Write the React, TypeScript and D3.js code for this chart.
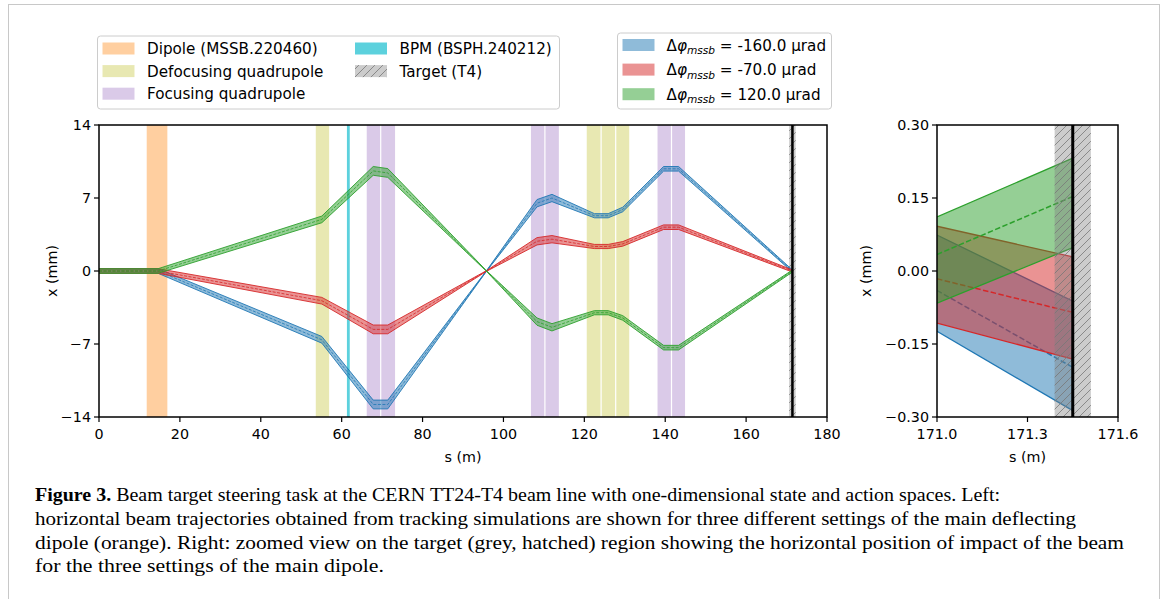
import React from 'react';
import * as d3 from 'd3';

// ---------- data ----------
const knotS = [0, 14.6, 55.1, 67.8, 71.4, 95.8, 108.3, 112.0, 122.5, 125.9, 129.5, 139.6, 143.3, 171.45];
const envelopeHW = [0.22, 0.22, 0.32, 0.42, 0.42, 0.03, 0.35, 0.35, 0.2, 0.2, 0.22, 0.22, 0.22, 0.1];
const blueX = [0, 0, -6.6, -12.8, -12.8, 0, 6.5, 7.0, 5.3, 5.3, 5.9, 9.8, 9.8, 0];
const redX = [0, 0, -2.85, -5.6, -5.6, 0, 2.85, 3.05, 2.35, 2.35, 2.6, 4.2, 4.2, 0];
const greenX = [0, 0, 4.95, 9.6, 9.4, 0, -4.85, -5.4, -4.0, -4.0, -4.5, -7.35, -7.35, 0];

const seriesLabels = ['-160.0', '-70.0', '120.0'];
const seriesColors = ['#1f77b4', '#d62728', '#2ca02c'];

// zoomed panel (s = 171.0 .. 171.45)
const rightS = [171.0, 171.45];
const blueUpperR = [0.074, -0.062];
const blueCenterR = [-0.040, -0.198];
const blueLowerR = [-0.124, -0.287];
const redUpperR = [0.092, 0.029];
const redCenterR = [-0.016, -0.085];
const redLowerR = [-0.107, -0.181];
const greenUpperR = [0.111, 0.232];
const greenCenterR = [0.034, 0.153];
const greenLowerR = [-0.066, 0.048];

// beam line elements [start, end] in s (m)
const dipoles = [[11.8, 16.9]];
const defocusingQuads = [[53.6, 56.9], [120.6, 124.0], [124.3, 127.6], [127.9, 131.1]];
const focusingQuads = [[66.2, 69.5], [69.8, 73.2], [106.8, 110.1], [110.4, 113.7], [138.1, 141.4], [141.7, 144.9]];
const bpms = [[61.3, 62.0]];
const targetSpan = [171.39, 171.51];
const targetPos = 171.45;

const leftXTicks = [0, 20, 40, 60, 80, 100, 120, 140, 160, 180];
const leftYTicks = [-14, -7, 0, 7, 14];
const rightXTicks = [171.0, 171.3, 171.6];
const rightYTicks = [-0.3, -0.15, 0, 0.15, 0.3];

const elementLegend = [
  { label: 'Dipole (MSSB.220460)', color: '#ffbb78', op: 0.7 },
  { label: 'Defocusing quadrupole', color: '#bcbd22', op: 0.35 },
  { label: 'Focusing quadrupole', color: '#9467bd', op: 0.35 },
  { label: 'BPM (BSPH.240212)', color: '#17becf', op: 0.7 },
  { label: 'Target (T4)', color: 'hatch', op: 1 },
];

const captionLines = [
  'Beam target steering task at the CERN TT24-T4 beam line with one-dimensional state and action spaces. Left:',
  'horizontal beam trajectories obtained from tracking simulations are shown for three different settings of the main deflecting',
  'dipole (orange). Right: zoomed view on the target (grey, hatched) region showing the horizontal position of impact of the beam',
  'for the three settings of the main dipole.',
];

// ---------- layout ----------
const W = 1168, H = 599;
const L = { x0: 99, x1: 827, y0: 125, y1: 417 };
const R = { x0: 937, x1: 1118, y0: 125, y1: 417 };
const FONT = 'DejaVu Sans, sans-serif';

const xL = d3.scaleLinear().domain([0, 180]).range([L.x0, L.x1]);
const yL = d3.scaleLinear().domain([-14, 14]).range([L.y1, L.y0]);
const xR = d3.scaleLinear().domain([171.0, 171.6]).range([R.x0, R.x1]);
const yR = d3.scaleLinear().domain([-0.3, 0.3]).range([R.y1, R.y0]);

const minus = (s: string) => s.replace('-', '\u2212');

function Trajectory({ xs, color }: { xs: number[]; color: string }) {
  const pts = knotS.map((s, i) => ({ s, c: xs[i], hw: envelopeHW[i] }));
  const area = d3.area<any>().x(d => xL(d.s)).y0(d => yL(d.c - d.hw)).y1(d => yL(d.c + d.hw));
  const line = (f: (d: any) => number) => d3.line<any>().x(d => xL(d.s)).y(d => yL(f(d)))(pts) || '';
  return (
    <g>
      <path d={area(pts) || ''} fill={color} fillOpacity={0.5} />
      <path d={line(d => d.c + d.hw)} fill="none" stroke={color} strokeWidth={0.9} />
      <path d={line(d => d.c - d.hw)} fill="none" stroke={color} strokeWidth={0.9} />
      <path d={line(d => d.c)} fill="none" stroke={color} strokeWidth={0.8} strokeDasharray="3,1.5" />
    </g>
  );
}

function ZoomBand({ up, mid, lo, color }: { up: number[]; mid: number[]; lo: number[]; color: string }) {
  const pts = rightS.map((s, i) => ({ s, u: up[i], m: mid[i], l: lo[i] }));
  const area = d3.area<any>().x(d => xR(d.s)).y0(d => yR(d.l)).y1(d => yR(d.u));
  const line = (k: string) => d3.line<any>().x(d => xR(d.s)).y(d => yR(d[k]))(pts) || '';
  return (
    <g>
      <path d={area(pts) || ''} fill={color} fillOpacity={0.5} />
      <path d={line('u')} fill="none" stroke={color} strokeWidth={1.3} />
      <path d={line('l')} fill="none" stroke={color} strokeWidth={1.3} />
      <path d={line('m')} fill="none" stroke={color} strokeWidth={1.5} strokeDasharray="5.5,2.4" />
    </g>
  );
}

function Spans({ spans, color, op }: { spans: number[][]; color: string; op: number }) {
  return (
    <g>
      {spans.map((sp, i) => (
        <rect key={i} x={xL(sp[0])} y={L.y0} width={xL(sp[1]) - xL(sp[0])} height={L.y1 - L.y0} fill={color} fillOpacity={op} />
      ))}
    </g>
  );
}

export default function App() {
  const seriesLeft = [blueX, redX, greenX];
  const zoomSeries = [
    [blueUpperR, blueCenterR, blueLowerR],
    [redUpperR, redCenterR, redLowerR],
    [greenUpperR, greenCenterR, greenLowerR],
  ];
  return (
    <svg width={W} height={H} style={{ position: 'absolute', left: 0, top: 0, background: '#fff' }} fontFamily={FONT}>
      <defs>
        <pattern id="hatch" patternUnits="userSpaceOnUse" width="8" height="8">
          <path d="M-2,2 l4,-4 M0,8 l8,-8 M6,10 l4,-4" stroke="#777" strokeWidth="0.8" />
        </pattern>
        <clipPath id="clipL"><rect x={L.x0} y={L.y0} width={L.x1 - L.x0} height={L.y1 - L.y0} /></clipPath>
        <clipPath id="clipR"><rect x={R.x0} y={R.y0} width={R.x1 - R.x0} height={R.y1 - R.y0} /></clipPath>
      </defs>
      <rect x={0} y={0} width={W} height={H} fill="#fff" />
      <rect x={8.5} y={4.5} width={1151} height={640} fill="none" stroke="#c8c8c8" strokeWidth={1} />

      {/* ---------- left panel ---------- */}
      <g clipPath="url(#clipL)">
        <Spans spans={dipoles} color="#ffbb78" op={0.7} />
        <Spans spans={defocusingQuads} color="#bcbd22" op={0.35} />
        <Spans spans={focusingQuads} color="#9467bd" op={0.35} />
        <Spans spans={bpms} color="#17becf" op={0.7} />
        <rect x={xL(targetSpan[0]) - 3} y={L.y0} width={xL(targetSpan[1]) - xL(targetSpan[0]) + 6} height={L.y1 - L.y0} fill="#808080" fillOpacity={0.4} />
        <rect x={xL(targetSpan[0]) - 3} y={L.y0} width={xL(targetSpan[1]) - xL(targetSpan[0]) + 6} height={L.y1 - L.y0} fill="url(#hatch)" />
        {seriesLeft.map((xs, i) => <Trajectory key={i} xs={xs} color={seriesColors[i]} />)}
        <line x1={xL(targetPos)} x2={xL(targetPos)} y1={L.y0} y2={L.y1} stroke="#000" strokeWidth={2.5} />
      </g>
      <rect x={L.x0} y={L.y0} width={L.x1 - L.x0} height={L.y1 - L.y0} fill="none" stroke="#000" strokeWidth={1.5} />
      {leftXTicks.map(t => (
        <g key={t}>
          <line x1={xL(t)} x2={xL(t)} y1={L.y1} y2={L.y1 + 5} stroke="#000" strokeWidth={1.2} />
          <text x={xL(t)} y={L.y1 + 22} fontSize={14.3} textAnchor="middle">{t}</text>
        </g>
      ))}
      {leftYTicks.map(t => (
        <g key={t}>
          <line x1={L.x0 - 5} x2={L.x0} y1={yL(t)} y2={yL(t)} stroke="#000" strokeWidth={1.2} />
          <text x={L.x0 - 8} y={yL(t) + 5} fontSize={14.3} textAnchor="end">{minus(String(t))}</text>
        </g>
      ))}
      <text x={(L.x0 + L.x1) / 2} y={462} fontSize={14.3} textAnchor="middle">s (m)</text>
      <text transform={`translate(57,${(L.y0 + L.y1) / 2}) rotate(-90)`} fontSize={14.3} textAnchor="middle">x (mm)</text>

      {/* ---------- right panel ---------- */}
      <g clipPath="url(#clipR)">
        {zoomSeries.map((s, i) => <ZoomBand key={i} up={s[0]} mid={s[1]} lo={s[2]} color={seriesColors[i]} />)}
        <rect x={xR(targetSpan[0])} y={R.y0} width={xR(targetSpan[1]) - xR(targetSpan[0])} height={R.y1 - R.y0} fill="#808080" fillOpacity={0.4} />
        <rect x={xR(targetSpan[0])} y={R.y0} width={xR(targetSpan[1]) - xR(targetSpan[0])} height={R.y1 - R.y0} fill="url(#hatch)" />
        <line x1={xR(targetPos)} x2={xR(targetPos)} y1={R.y0} y2={R.y1} stroke="#000" strokeWidth={3} />
      </g>
      <rect x={R.x0} y={R.y0} width={R.x1 - R.x0} height={R.y1 - R.y0} fill="none" stroke="#000" strokeWidth={1.5} />
      {rightXTicks.map(t => (
        <g key={t}>
          <line x1={xR(t)} x2={xR(t)} y1={R.y1} y2={R.y1 + 5} stroke="#000" strokeWidth={1.2} />
          <text x={xR(t)} y={R.y1 + 22} fontSize={14.3} textAnchor="middle">{d3.format('.1f')(t)}</text>
        </g>
      ))}
      {rightYTicks.map(t => (
        <g key={t}>
          <line x1={R.x0 - 5} x2={R.x0} y1={yR(t)} y2={yR(t)} stroke="#000" strokeWidth={1.2} />
          <text x={R.x0 - 8} y={yR(t) + 5} fontSize={14.3} textAnchor="end">{minus(d3.format('.2f')(t))}</text>
        </g>
      ))}
      <text x={(R.x0 + R.x1) / 2} y={462} fontSize={14.3} textAnchor="middle">s (m)</text>
      <text transform={`translate(871,${(R.y0 + R.y1) / 2}) rotate(-90)`} fontSize={14.3} textAnchor="middle">x (mm)</text>

      {/* ---------- legend: elements ---------- */}
      <rect x={97.5} y={36} width={462} height={73} rx={3} fill="#fff" fillOpacity={0.8} stroke="#ccc" />
      {elementLegend.map((e, i) => {
        const col = i < 3 ? 0 : 1;
        const row = i < 3 ? i : i - 3;
        const px = col === 0 ? 102.5 : 355;
        const cy = 48.5 + row * 22.6;
        return (
          <g key={i}>
            {e.color === 'hatch' ? (
              <g>
                <rect x={px} y={cy - 6} width={32} height={12} fill="#808080" fillOpacity={0.4} />
                <rect x={px} y={cy - 6} width={32} height={12} fill="url(#hatch)" />
              </g>
            ) : (
              <rect x={px} y={cy - 6} width={32} height={12} fill={e.color} fillOpacity={e.op} />
            )}
            <text x={px + 44.5} y={cy + 5.5} fontSize={15.2}>{e.label}</text>
          </g>
        );
      })}

      {/* ---------- legend: settings ---------- */}
      <rect x={617.5} y={33} width={214} height={76} rx={3} fill="#fff" fillOpacity={0.8} stroke="#ccc" />
      {seriesLabels.map((lab, i) => {
        const cy = 45 + i * 24.6;
        return (
          <g key={i}>
            <rect x={622.5} y={cy - 6} width={32} height={12} fill={seriesColors[i]} fillOpacity={0.5} />
            <text x={666.5} y={cy + 5.5} fontSize={15.2}>
              <tspan>Δ</tspan>
              <tspan fontStyle="italic">φ</tspan>
              <tspan fontStyle="italic" fontSize={10.6} dy={3.5}>mssb</tspan>
              <tspan dy={-3.5}>{` = ${lab} µrad`}</tspan>
            </text>
          </g>
        );
      })}

      {/* ---------- caption ---------- */}
      <g fontFamily="Liberation Serif, serif" fontSize={18}>
        <text x={35} y={501} textLength={965} lengthAdjust="spacingAndGlyphs">
          <tspan fontWeight="bold">Figure 3.</tspan>
          <tspan>{' ' + captionLines[0]}</tspan>
        </text>
        <text x={35} y={525} textLength={1041} lengthAdjust="spacingAndGlyphs">{captionLines[1]}</text>
        <text x={35} y={549} textLength={1089} lengthAdjust="spacingAndGlyphs">{captionLines[2]}</text>
        <text x={35} y={572} textLength={349} lengthAdjust="spacingAndGlyphs">{captionLines[3]}</text>
      </g>
    </svg>
  );
}
